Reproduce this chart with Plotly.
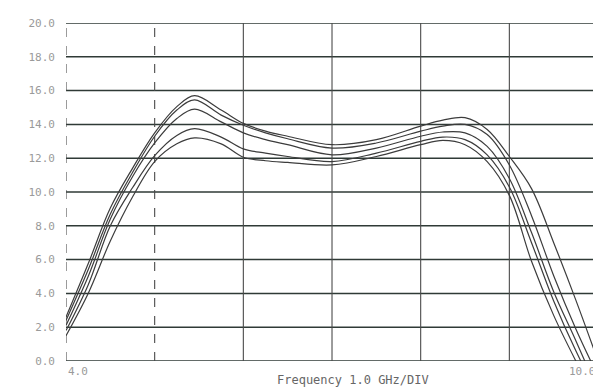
import plotly.graph_objects as go

# Frequency (GHz)
freq = [4.0, 4.25, 4.5, 4.75, 5.0, 5.25, 5.45, 5.75, 6.0, 6.25, 6.5, 7.0, 7.5,
        8.0, 8.25, 8.5, 8.75, 9.0, 9.25, 9.5, 9.75, 10.0]

# Five measured traces
trace_a = [2.6, 5.75, 9.05, 11.4, 13.5, 15.05, 15.7, 14.85, 14.06, 13.6, 13.3, 12.8, 13.1,
           13.9, 14.25, 14.4, 13.7, 12.1, 10.2, 7.0, 3.6, 0.0]
trace_b = [2.4, 5.4, 8.7, 11.15, 13.3, 14.85, 15.45, 14.55, 13.95, 13.5, 13.15, 12.6, 12.9,
           13.6, 13.9, 14.0, 13.4, 11.6, 8.6, 5.05, 1.9, -0.9]
trace_c = [2.1, 5.0, 8.4, 10.9, 12.9, 14.35, 14.9, 14.15, 13.5, 13.1, 12.8, 12.2, 12.6,
           13.3, 13.55, 13.5, 12.7, 10.8, 7.6, 4.1, 1.2, -1.8]
trace_d = [1.8, 4.5, 8.0, 10.25, 12.15, 13.35, 13.75, 13.25, 12.55, 12.3, 12.1, 11.8, 12.3,
           13.0, 13.25, 13.1, 12.2, 10.3, 7.0, 3.55, 0.6, -2.0]
trace_e = [1.5, 4.0, 7.1, 9.7, 11.8, 12.85, 13.2, 12.85, 12.06, 11.85, 11.75, 11.6, 12.1,
           12.8, 13.05, 12.8, 11.8, 9.8, 5.9, 2.7, 0.0, -2.5]

y_ticks = [0, 2, 4, 6, 8, 10, 12, 14, 16, 18, 20]
y_labels = ["0.0", "2.0", "4.0", "6.0", "8.0", "10.0", "12.0", "14.0", "16.0", "18.0", "20.0"]
x_grid = [4, 5, 6, 7, 8, 9, 10]
x_title = "Frequency 1.0 GHz/DIV"

fig = go.Figure()
for tr in [trace_a, trace_b, trace_c, trace_d, trace_e]:
    fig.add_trace(go.Scatter(x=freq, y=tr, mode="lines",
                             line=dict(color="#3c3c3c", width=1.2, shape="spline", smoothing=1.0),
                             showlegend=False, hoverinfo="skip"))

shapes = []
for yv in y_ticks:
    shapes.append(dict(type="line", xref="paper", yref="y", x0=0, x1=1, y0=yv, y1=yv,
                       line=dict(color="#2f3a36", width=1.5), layer="below"))
for xv in x_grid:
    dash = "dash" if xv in (4, 5) else "solid"
    shapes.append(dict(type="line", xref="x", yref="y", x0=xv, x1=xv, y0=0, y1=20,
                       line=dict(color="#4a4a4a", width=1.1, dash=dash), layer="below"))

tick_font = dict(family="DejaVu Sans Mono", size=11, color="#9a9a9a")

fig.update_layout(
    width=601, height=388,
    margin=dict(l=58, r=3, t=15, b=35),
    paper_bgcolor="white", plot_bgcolor="white",
    shapes=shapes,
    xaxis=dict(range=[4, 10.09], showgrid=False, zeroline=False, showticklabels=False,
               ticks="", showline=False),
    yaxis=dict(range=[0, 20], tickvals=y_ticks, ticktext=y_labels, showgrid=False,
               zeroline=False, showline=False, ticks="", ticklabelstandoff=10,
               tickfont=tick_font),
    annotations=[
        dict(x=4.0, y=0, xref="x", yref="y", text="4.0", showarrow=False,
             xanchor="left", yanchor="top", yshift=-2, font=tick_font),
        dict(x=10.0, y=0, xref="x", yref="y", text="10.0", showarrow=False,
             xanchor="right", yanchor="top", yshift=-2, font=tick_font),
        dict(x=7.24, y=0, xref="x", yref="y", text=x_title, showarrow=False,
             xanchor="center", yanchor="top", yshift=-10,
             font=dict(family="DejaVu Sans Mono", size=12, color="#666666")),
    ],
)

fig.write_html("out.html")
